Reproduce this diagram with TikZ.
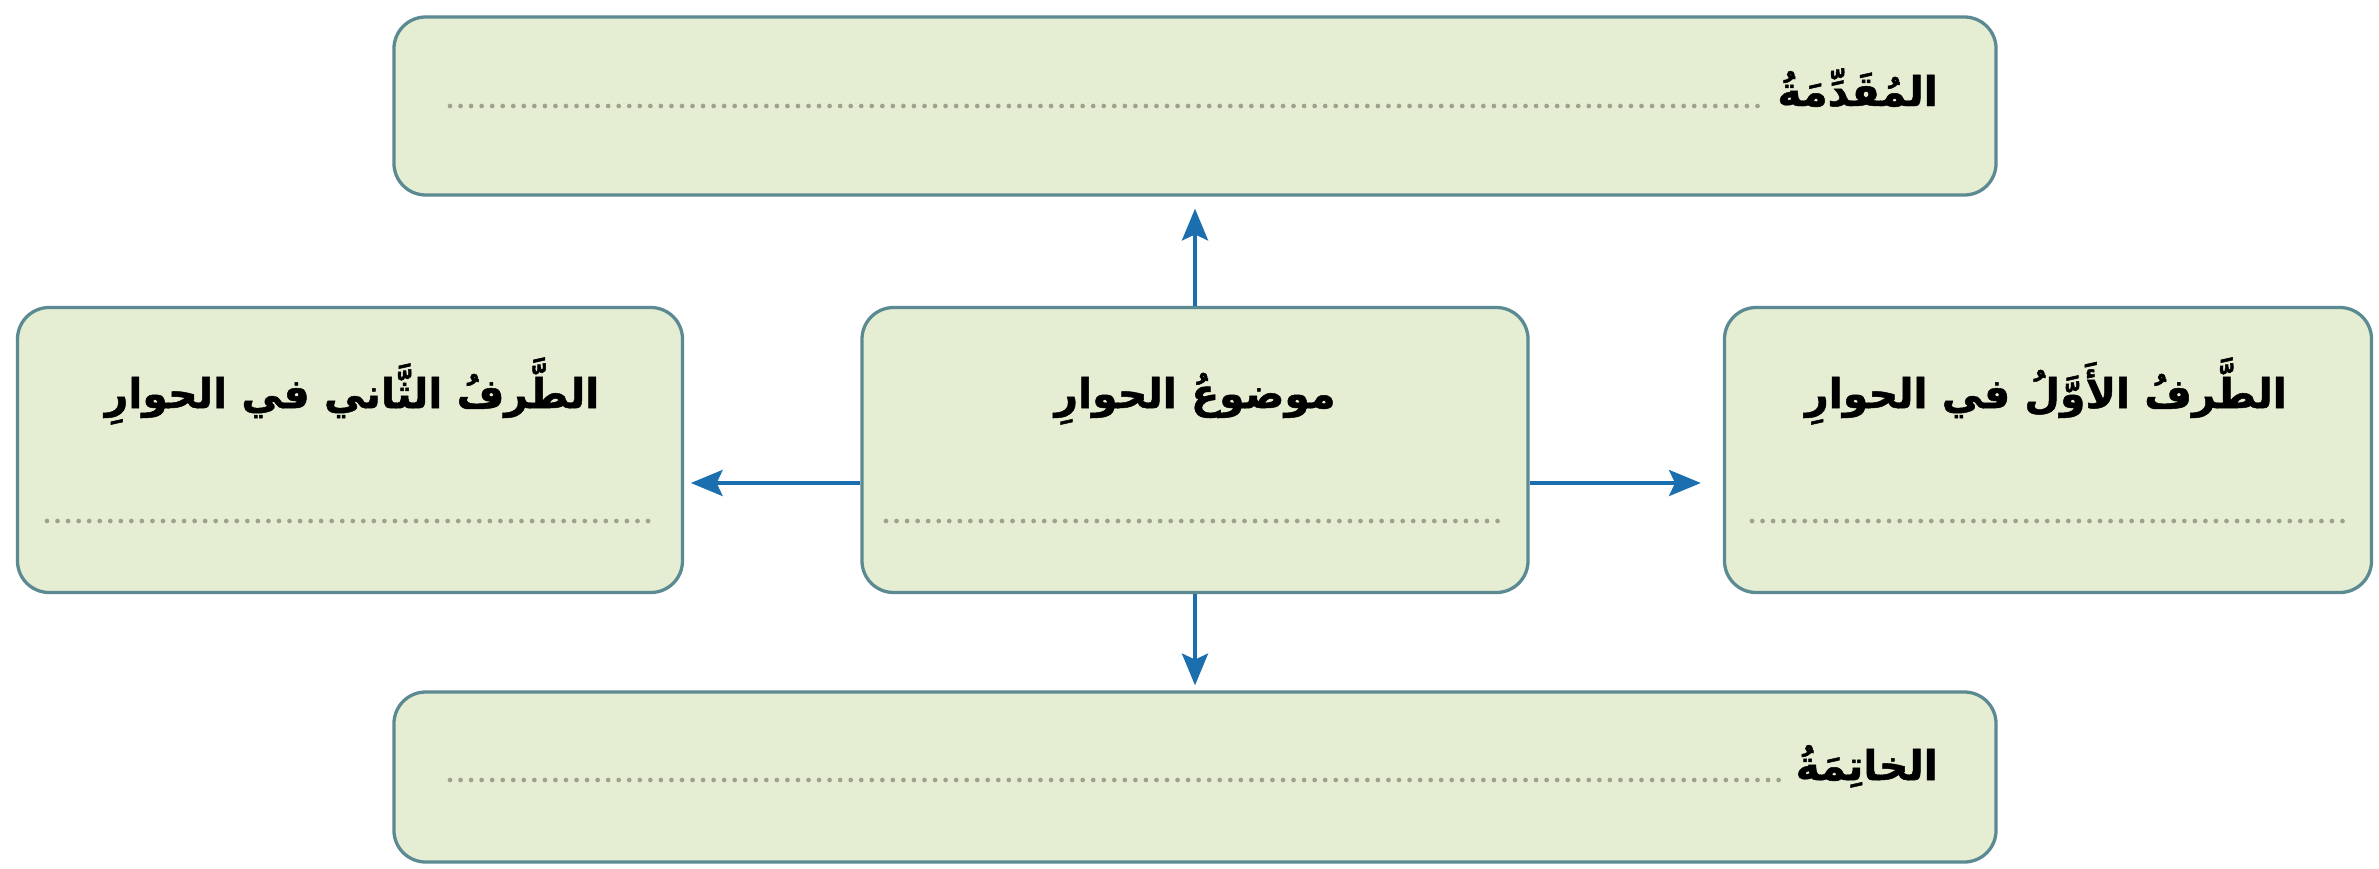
\documentclass[tikz,border=0pt]{standalone}
\usepackage{fontspec}
\usetikzlibrary{arrows.meta}
\TeXXeTstate=1
\newfontfamily\arabicfont[Script=Arabic, BoldFeatures={FakeBold=1.2}]{DejaVu Sans}
\definecolor{boxfill}{HTML}{E5EDD2}
\definecolor{boxline}{HTML}{5B8A92}
\definecolor{arrcol}{HTML}{1B6FAF}
\definecolor{dotcol}{HTML}{9DA38B}
\begin{document}
\begin{tikzpicture}[x=0.03cm,y=-0.03cm,
  box/.style={draw=boxline, line width=2.8pt, fill=boxfill, rounded corners=0.95cm, inner sep=0pt},
  lbl/.style={inner sep=0pt, font=\arabicfont\bfseries\fontsize{35}{40}\selectfont, text=black},
  dots/.style={draw=dotcol, line width=4pt, dash pattern=on 0pt off 9pt, line cap=round},
  arr/.style={draw=arrcol, line width=4pt, -{Stealth[length=27pt,width=22pt,inset=5pt]}}]
\useasboundingbox (0,0) rectangle (2379,869);
\fill[white] (0,0) rectangle (2379,869);
% boxes
\node[box, minimum width=48.06cm, minimum height=5.34cm] (t) at (1195,106) {};
\node[box, minimum width=48.06cm, minimum height=5.1cm] (b) at (1195,777) {};
\node[box, minimum width=19.95cm, minimum height=8.55cm] (l) at (350,450) {};
\node[box, minimum width=19.98cm, minimum height=8.55cm] (c) at (1195,450) {};
\node[box, minimum width=19.41cm, minimum height=8.55cm] (r) at (2048,450) {};
% labels
\node[lbl, anchor=base east] (tt) at (1938,106) {\beginR المُقَدِّمَةُ\endR};
\node[lbl, anchor=base east] (bt) at (1938,780) {\beginR الخاتِمَةُ\endR};
\node[lbl, anchor=base] (lt) at (352,408) {\beginR الطَّرفُ الثَّاني في الحوارِ\endR};
\node[lbl, anchor=base] (ct) at (1195,408) {\beginR موضوعُ الحوارِ\endR};
\node[lbl, anchor=base] (rt) at (2046,408) {\beginR الطَّرفُ الأَوَّلُ في الحوارِ\endR};
% dotted lines
\draw[dots] (450,106) -- ([xshift=-0.45cm]tt.base west);
\draw[dots] (450,780) -- ([xshift=-0.45cm]bt.base west);
\draw[dots] (47,521) -- (657,521);
\draw[dots] (886,521) -- (1500,521);
\draw[dots] (1752,521) -- (2350,521);
% arrows
\draw[arr, shorten >=0.36cm] (c.north) -- (t.south);
\draw[arr, shorten >=0.15cm] (c.south) -- (b.north);
\draw[arr, shorten >=0.2cm] (c.west |- 0,483) -- (l.east |- 0,483);
\draw[arr, shorten >=0.66cm] (c.east |- 0,483) -- (r.west |- 0,483);
\end{tikzpicture}
\end{document}
